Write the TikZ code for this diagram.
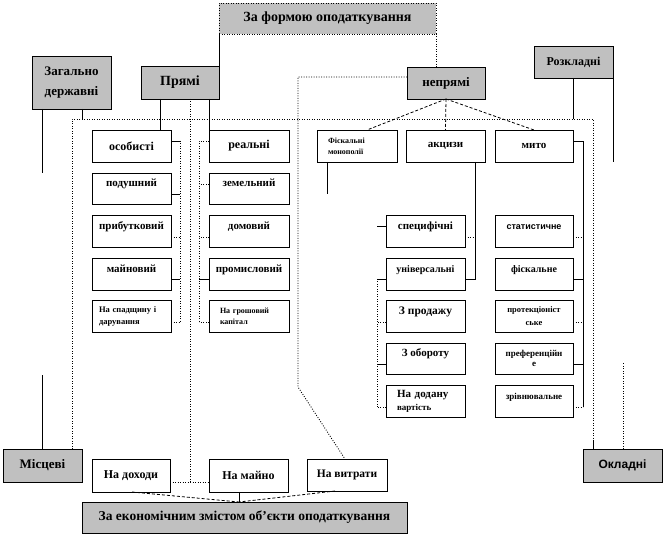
\documentclass[tikz,border=0pt]{standalone}
\usepackage{fontspec}
\setmainfont{Liberation Serif}
\newfontfamily\arialfont{Liberation Sans}
\definecolor{gfill}{HTML}{C0C0C0}
\begin{document}
\begin{tikzpicture}[x=1pt,y=-1pt,
 bx/.style={draw=black,line width=0.8pt,anchor=north west,inner sep=0pt,outer sep=0pt},
 gb/.style={bx,fill=gfill},
 wb/.style={bx,fill=white},
 fs/.style={font=\bfseries\fontsize{#1}{#1}\selectfont},
 sfs/.style={font=\arialfont\bfseries\fontsize{#1}{#1}\selectfont},
 up/.style={text height=8pt,text depth=11pt},
 sz/.style n args={2}{minimum width=#1pt,minimum height=#2pt},
 ml/.style n args={2}{align=#1,text width=#2pt},
 ln/.style={line width=0.8pt},
 dt/.style={line width=0.9pt,dash pattern=on 0.9pt off 1.6pt},
 ds/.style={line width=0.8pt,dash pattern=on 3pt off 2pt}]

\useasboundingbox (0,0) rectangle (665,537);

% grey headings
\node[gb,sz={217}{31},fs=14,dash pattern=on 0.9pt off 1.6pt] (formy) at (219,3) {За формою оподаткування};
\node[gb,sz={79}{53},fs=13,align=center] (zag) at (32,56) {Загально\\[7pt]державні};
\node[gb,sz={78}{33},fs=14] (pryami) at (141,66) {Прямі};
\node[gb,sz={78}{32},fs=13] (nepr) at (407,67) {непрямі};
\node[gb,sz={79}{32},fs=12] (rozkl) at (534,46) {Розкладні};
\node[gb,sz={79}{33},fs=13] (mists) at (3,449) {Місцеві};
\node[gb,sz={79}{33},sfs=12] (oklad) at (583,449) {Окладні};
\node[gb,sz={325}{31},fs=13.5] (ekon) at (82,502) {За економічним змістом об’єкти оподаткування};

% column 1
\node[wb,sz={79}{32},fs=12] (osob) at (92,130) {особисті};
\node[wb,sz={79}{31},fs=11,up] (podush) at (92,173) {подушний};
\node[wb,sz={79}{32},fs=11,up] (prybut) at (92,215) {прибутковий};
\node[wb,sz={79}{32},fs=11,up] (mayn) at (92,258) {майновий};
\node[wb,sz={79}{32},fs=8.5,ml={left}{65}] (spad) at (92,300) {\makebox[65pt][s]{На спадщину і}\\[3.5pt]дарування};

% column 2
\node[wb,sz={80}{32},fs=12] (real) at (209,130) {реальні};
\node[wb,sz={80}{31},fs=11,up] (zem) at (209,173) {земельний};
\node[wb,sz={80}{32},fs=11,up] (dom) at (209,215) {домовий};
\node[wb,sz={80}{32},fs=11,up] (prom) at (209,258) {промисловий};
\node[wb,sz={80}{32},fs=8,ml={left}{58}] (grosh) at (209,300) {На грошовий\\[3pt]капітал};

% top row right
\node[wb,sz={80}{32},fs=8,ml={left}{58}] (fisk) at (317,130) {Фіскальні\\[3pt]монополії};
\node[wb,sz={79}{32},fs=11] (akc) at (406,130) {акцизи};
\node[wb,sz={78}{32},fs=11] (myto) at (495,130) {мито};

% column 3
\node[wb,sz={79}{32},fs=11,up] (spec) at (386,215) {специфічні};
\node[wb,sz={79}{32},fs=10,up] (univ) at (386,258) {універсальні};
\node[wb,sz={79}{32},fs=11.5,up] (prod) at (386,300) {З продажу};
\node[wb,sz={79}{31},fs=11,up] (obor) at (386,343) {З обороту};
\node[wb,sz={79}{32},fs=11,ml={left}{57}] (dodan) at (386,385) {На додану\\[2pt]{\fontsize{9}{9}\selectfont вартість}};

% column 4
\node[wb,sz={78}{32},sfs=9,up] (stat) at (495,215) {статистичне};
\node[wb,sz={78}{32},fs=10,up] (fiskn) at (495,258) {фіскальне};
\node[wb,sz={78}{32},fs=8.5,align=center] (prot) at (495,300) {протекціоніст\\[5pt]ське};
\node[wb,sz={78}{31},fs=9,align=center] (pref) at (495,343) {преференційн\\[1pt]е};
\node[wb,sz={78}{32},fs=9,up] (zriv) at (495,385) {зрівнювальне};

% bottom row
\node[wb,sz={78}{33},fs=12] (dohody) at (92,459) {На доходи};
\node[wb,sz={79}{33},fs=12] (mayno) at (209,459) {На майно};
\node[wb,sz={80}{32},fs=11.5] (vytr) at (307,459) {На витрати};

% connectors: top
\draw[ln] (formy.south west) -- (pryami.north east);
\draw[dt] (formy.south east) -- (nepr.north -| formy.south east);
\draw[ln] (zag.south -| 42,0) -- (42,173);
\draw[ln] (zag.south -| 82,0) -- (82,119);
\draw[dt] (mists.north -| 72,0) -- (72,119) -- (593,119) -- (593,440);
\draw[ln] (593,440) -- (oklad.north -| 593,0);
\draw[ln] (mists.north -| 42,0) -- (42,375);
\draw[dt] (oklad.north -| 623,0) -- (623,363);
\draw[ln] (rozkl.south -| 573,0) -- (573,119);
\draw[ln] (rozkl.south east) -- (613,162);

% direct taxes
\draw[ln] (pryami.south -| 160,0) -- (osob.north -| 160,0);
\draw[dt] (pryami.south -| 190,0) -- (190,482);
\draw[dt] (dohody.east |- 0,482) -- (mayno.west |- 0,482);
\draw[ln] (pryami.south -| 209,0) -- (real.north west);

\draw[ln] (osob.east |- 0,141) -- (180,141);
\draw[dt] (180,141) -- (180,322);
\draw[ln] (podush.east |- 0,194) -- (180,194);
\draw[dt] (prybut.east |- 0,237) -- (180,237);
\draw[ln] (mayn.east |- 0,279) -- (180,279);
\draw[dt] (spad.east |- 0,322) -- (180,322);

\draw[dt] (real.west |- 0,141) -- (199,141) -- (199,322);
\draw[dt] (zem.west |- 0,184) -- (199,184);
\draw[dt] (dom.west |- 0,237) -- (199,237);
\draw[ln] (prom.west |- 0,279) -- (199,279);
\draw[dt] (grosh.west |- 0,322) -- (199,322);

% indirect taxes
\draw[dt] (nepr.west |- 0,77) -- (298,77) -- (298,387) -- (vytr.north -| 345,0);
\draw[ds] (nepr.south) -- (fisk.north -| 367,0);
\draw[ds] (nepr.south) -- (akc.north);
\draw[ds] (nepr.south) -- (myto.north);
\draw[ln] (fisk.south -| 327,0) -- (327,194);
\draw[ln] (akc.south -| 475,0) -- (475,279) -- (univ.east |- 0,279);
\draw[dt] (spec.east |- 0,237) -- (475,237);
\draw[ln] (spec.west |- 0,226) -- (377,226);
\draw[ln] (univ.west |- 0,279) -- (377,279);
\draw[dt] (377,279) -- (377,407);
\draw[dt] (prod.west |- 0,322) -- (377,322);
\draw[ln] (obor.west |- 0,364) -- (377,364);
\draw[dt] (dodan.west |- 0,407) -- (377,407);

\draw[ln] (myto.east |- 0,141) -- (583,141) -- (583,407);
\draw[dt] (stat.east |- 0,237) -- (583,237);
\draw[ln] (fiskn.east |- 0,279) -- (583,279);
\draw[dt] (prot.east |- 0,322) -- (583,322);
\draw[ln] (pref.east |- 0,364) -- (583,364);
\draw[dt] (zriv.east |- 0,407) -- (583,407);

% bottom
\coordinate (ek) at (ekon.north -| 239,0);
\draw[ds] (dohody.south -| 132,0) -- (ek);
\draw[ln] (mayno.south -| 239,0) -- (ek);
\draw[ds] (vytr.south -| 335,0) -- (ek);
\end{tikzpicture}
\end{document}
